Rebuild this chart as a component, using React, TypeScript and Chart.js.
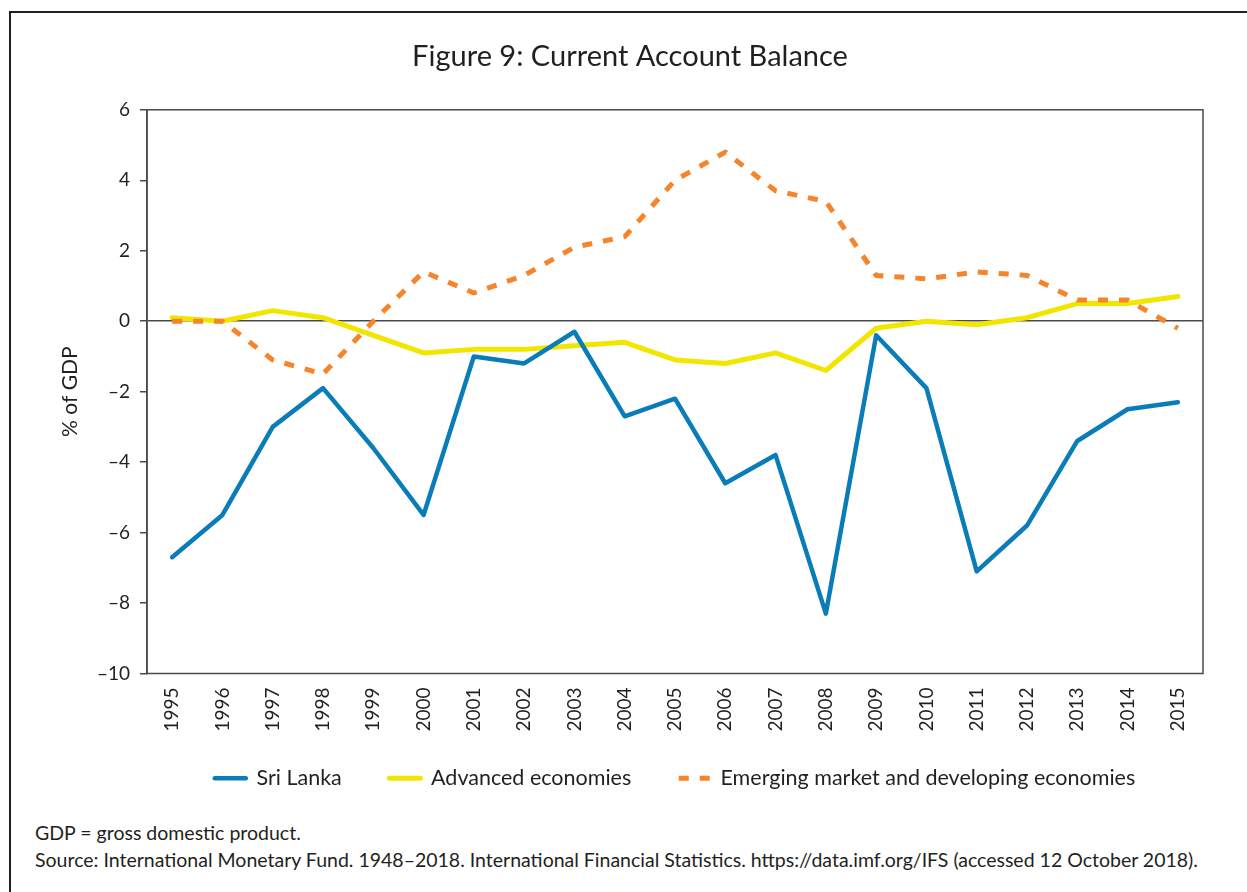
import React, { useEffect, useRef } from "react";
import { Chart, registerables } from "chart.js";

Chart.register(...registerables);

const years = ["1995", "1996", "1997", "1998", "1999", "2000", "2001", "2002", "2003", "2004", "2005", "2006", "2007", "2008", "2009", "2010", "2011", "2012", "2013", "2014", "2015"];
const sriLanka = [-6.7, -5.5, -3.0, -1.9, -3.6, -5.5, -1.0, -1.2, -0.3, -2.7, -2.2, -4.6, -3.8, -8.3, -0.4, -1.9, -7.1, -5.8, -3.4, -2.5, -2.3];
const advanced = [0.1, 0.0, 0.3, 0.1, -0.4, -0.9, -0.8, -0.8, -0.7, -0.6, -1.1, -1.2, -0.9, -1.4, -0.2, 0.0, -0.1, 0.1, 0.5, 0.5, 0.7];
const emerging = [0.0, 0.0, -1.1, -1.5, 0.0, 1.4, 0.8, 1.3, 2.1, 2.4, 4.0, 4.8, 3.7, 3.4, 1.3, 1.2, 1.4, 1.3, 0.6, 0.6, -0.2];
const yMin = -10;
const yMax = 6;
const yStep = 2;

const FONT = "Lato, 'Noto Sans', sans-serif";
const TEXT = "#231F20";

const framePlugin = {
  id: "frame",
  beforeDatasetsDraw(chart: any) {
    const { ctx, chartArea } = chart;
    const { left, top, right, bottom } = chartArea;
    ctx.save();
    ctx.strokeStyle = "#4a4a4a";
    ctx.lineWidth = 1.5;
    ctx.strokeRect(left, top, right - left, bottom - top);
    ctx.restore();
  },
};

export default function App() {
  const ref = useRef<HTMLCanvasElement | null>(null);

  useEffect(() => {
    if (!ref.current) return;
    const chart = new Chart(ref.current, {
      type: "line",
      data: {
        labels: years,
        datasets: [
          {
            label: "Sri Lanka",
            data: sriLanka,
            borderColor: "#0A7DB8",
            backgroundColor: "#0A7DB8",
            borderWidth: 4.5,
            pointRadius: 0,
            pointStyle: "line",
            tension: 0,
            borderJoinStyle: "round",
            borderCapStyle: "round",
            order: 1,
          },
          {
            label: "Advanced economies",
            data: advanced,
            borderColor: "#F2E600",
            backgroundColor: "#F2E600",
            borderWidth: 5,
            pointRadius: 0,
            pointStyle: "line",
            tension: 0,
            borderJoinStyle: "round",
            borderCapStyle: "round",
            order: 2,
          },
          {
            label: "Emerging market and developing economies",
            data: emerging,
            borderColor: "#F5842A",
            backgroundColor: "#F5842A",
            borderWidth: 5,
            borderDash: [10, 11],
            pointRadius: 0,
            pointStyle: "line",
            tension: 0,
            borderJoinStyle: "round",
            order: 0,
          },
        ],
      },
      options: {
        responsive: false,
        animation: false,
        devicePixelRatio: 1,
        layout: { padding: { left: 57, right: 44, top: 0, bottom: 3 } },
        plugins: {
          title: {
            display: true,
            text: "Figure 9: Current Account Balance",
            color: TEXT,
            font: { family: FONT, size: 29, weight: "normal" },
            padding: { top: 39, bottom: 36 },
          },
          legend: {
            display: true,
            position: "bottom",
            fullSize: false,
            align: "center",
            labels: {
              usePointStyle: true,
              pointStyleWidth: 31,
              boxHeight: 21,
              padding: 31,
              color: TEXT,
              font: { family: FONT, size: 21.5 },
              generateLabels: (chart: any) => {
                const items = (Chart.defaults as any).plugins.legend.labels.generateLabels(chart);
                items.sort((a: any, b: any) => a.datasetIndex - b.datasetIndex);
                return items.map((it: any, i: number) => {
                  const ds = chart.data.datasets[it.datasetIndex];
                  const dash = ds.borderDash || [];
                  return {
                    ...it,
                    text: i < items.length - 1 ? it.text + "   " : it.text,
                    lineDash: dash,
                    lineCap: dash.length ? "butt" : "round",
                    lineWidth: ds.borderWidth,
                  };
                });
              },
            },
          },
          tooltip: { enabled: false },
        },
        scales: {
          x: {
            offset: true,
            grid: { display: false, drawTicks: false },
            border: { display: false },
            ticks: {
              color: TEXT,
              font: { family: FONT, size: 19 },
              minRotation: 90,
              maxRotation: 90,
              padding: 14,
              autoSkip: false,
            },
            afterFit: (scale: any) => {
              scale.height = 63;
            },
          },
          y: {
            min: yMin,
            max: yMax,
            grid: {
              drawOnChartArea: true,
              drawTicks: true,
              tickLength: 7,
              tickColor: "#4a4a4a",
              lineWidth: 1.5,
              color: (ctx: any) => (ctx.tick && ctx.tick.value === 0 ? "#4a4a4a" : "rgba(0,0,0,0)"),
            },
            border: { display: true, color: "#4a4a4a", width: 1.5 },
            ticks: {
              stepSize: yStep,
              color: TEXT,
              font: { family: FONT, size: 19 },
              padding: 10,
              callback: (v: any) => (Number(v) < 0 ? "\u2013" + Math.abs(Number(v)) : String(v)),
            },
            title: {
              display: true,
              text: "% of GDP",
              color: TEXT,
              font: { family: FONT, size: 21 },
              padding: { top: 1, bottom: 0 },
            },
            afterFit: (scale: any) => {
              scale.width = 90;
            },
          },
        },
      },
      plugins: [framePlugin],
    });
    return () => chart.destroy();
  }, []);

  return (
    <div style={{ position: "absolute", left: 0, top: 0, width: 1247, height: 892, overflow: "hidden", background: "#fff" }}>
      <div
        style={{
          position: "absolute",
          left: 9,
          top: 11,
          width: 1300,
          height: 1000,
          borderLeft: "2px solid #231F20",
          borderTop: "2px solid #231F20",
          boxSizing: "border-box",
        }}
      />
      <canvas ref={ref} width={1247} height={802} style={{ position: "absolute", left: 0, top: 0, display: "block" }} />
      <div
        style={{
          position: "absolute",
          left: 35,
          top: 819,
          fontFamily: FONT,
          fontSize: 19.5,
          color: TEXT,
          lineHeight: "27px",
          whiteSpace: "nowrap",
        }}
      >
        <div>GDP = gross domestic product.</div>
        <div>Source: International Monetary Fund. 1948–2018. International Financial Statistics. https://data.imf.org/IFS (accessed 12 October 2018).</div>
      </div>
    </div>
  );
}
